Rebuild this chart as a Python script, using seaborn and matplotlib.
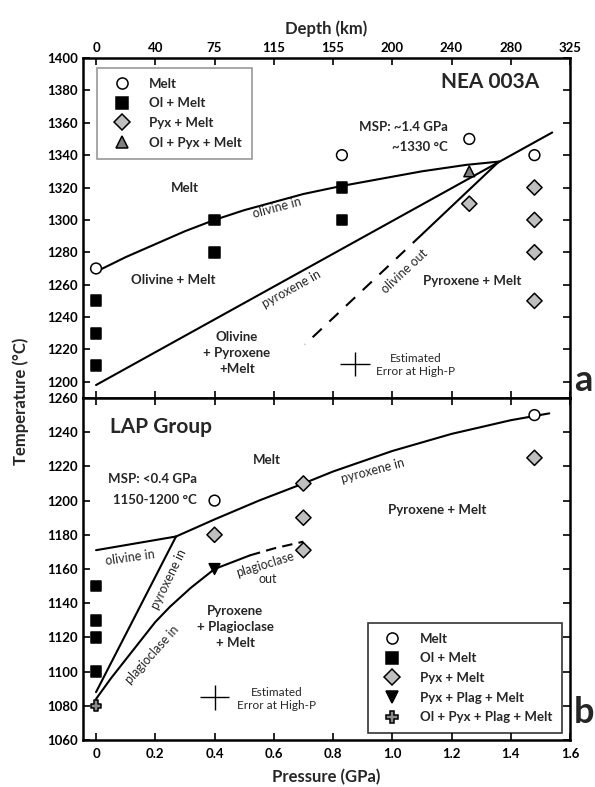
import matplotlib.pyplot as plt
import matplotlib.lines as mlines
import seaborn as sns
import pandas as pd

# ---- data: panel a (NEA 003A) ----
melt_a_P = [0, 0.83, 1.26, 1.48]
melt_a_T = [1270, 1340, 1350, 1340]
olm_a_P = [0, 0, 0, 0.4, 0.4, 0.83, 0.83]
olm_a_T = [1250, 1230, 1210, 1300, 1280, 1320, 1300]
pyx_a_P = [1.26, 1.48, 1.48, 1.48, 1.48]
pyx_a_T = [1310, 1320, 1300, 1280, 1250]
olpyx_a_P = [1.26]
olpyx_a_T = [1330]

oliv_in_a_P = [0, 0.1, 0.2, 0.3, 0.4, 0.5, 0.6, 0.7, 0.83, 0.95, 1.1, 1.25, 1.36]
oliv_in_a_T = [1268, 1277, 1285, 1293, 1300, 1306, 1311, 1316, 1321, 1325, 1330, 1334, 1336]
pyx_in_a_P = [0, 1.54]
pyx_in_a_T = [1198, 1354]
oliv_out_a_P = [1.36, 1.1]
oliv_out_a_T = [1336, 1291]
oliv_out_dash_a_P = [1.1, 0.705]
oliv_out_dash_a_T = [1291, 1223]

# ---- data: panel b (LAP Group) ----
melt_b_P = [0.4, 1.48]
melt_b_T = [1200, 1250]
olm_b_P = [0, 0, 0, 0]
olm_b_T = [1150, 1130, 1120, 1100]
pyx_b_P = [0.4, 0.7, 0.7, 0.7, 1.48]
pyx_b_T = [1180, 1210, 1190, 1171, 1225]
pyxplag_b_P = [0.4]
pyxplag_b_T = [1160]
all4_b_P = [0]
all4_b_T = [1080]

oliv_in_b_P = [0, 0.27]
oliv_in_b_T = [1171, 1179]
pyx_in_b_P = [0.27, 0.4, 0.55, 0.7, 0.8, 0.9, 1.0, 1.1, 1.2, 1.3, 1.4, 1.53]
pyx_in_b_T = [1179, 1189, 1200, 1210, 1217, 1223, 1229, 1234, 1239, 1243, 1247, 1251]
pyx_in2_b_P = [0, 0.27]
pyx_in2_b_T = [1088, 1179]
plag_in_b_P = [0, 0.05, 0.1, 0.15, 0.2, 0.25, 0.32, 0.4, 0.46, 0.52]
plag_in_b_T = [1084, 1096, 1107, 1118, 1129, 1138, 1149, 1160, 1164, 1168]
plag_out_b_P = [0.52, 0.6, 0.7]
plag_out_b_T = [1168, 1172, 1176]

# estimated error crosses: P, T, dP, dT
err_a = [0.874, 1211, 0.05, 7.7]
err_b = [0.40, 1085, 0.05, 7.3]

p_ticks = [0, 0.2, 0.4, 0.6, 0.8, 1.0, 1.2, 1.4, 1.6]
p_labels = ["0", "0.2", "0.4", "0.6", "0.8", "1.0", "1.2", "1.4", "1.6"]
depth_labels = ["0", "40", "75", "115", "155", "200", "240", "280", "325"]

MARKERS = {"Melt": "o", "Ol + Melt": "s", "Pyx + Melt": "D",
           "Ol + Pyx + Melt": "^", "Pyx + Plag + Melt": "v",
           "Ol + Pyx + Plag + Melt": "P"}
COLORS = {"Melt": "white", "Ol + Melt": "black", "Pyx + Melt": "#bfbfbf",
          "Ol + Pyx + Melt": "#7f7f7f", "Pyx + Plag + Melt": "black",
          "Ol + Pyx + Plag + Melt": "#8c8c8c"}

sns.set_theme(style="ticks")
plt.rcParams["font.family"] = ["Lato", "DejaVu Sans"]
plt.rcParams["font.weight"] = "bold"
plt.rcParams["axes.labelweight"] = "bold"


def frame(phases):
    rows = []
    for name, P, T in phases:
        rows += [{"P": p, "T": t, "phase": name} for p, t in zip(P, T)]
    return pd.DataFrame(rows)


df_a = frame([("Melt", melt_a_P, melt_a_T), ("Ol + Melt", olm_a_P, olm_a_T),
              ("Pyx + Melt", pyx_a_P, pyx_a_T),
              ("Ol + Pyx + Melt", olpyx_a_P, olpyx_a_T)])
df_b = frame([("Melt", melt_b_P, melt_b_T), ("Ol + Melt", olm_b_P, olm_b_T),
              ("Pyx + Melt", pyx_b_P, pyx_b_T),
              ("Pyx + Plag + Melt", pyxplag_b_P, pyxplag_b_T),
              ("Ol + Pyx + Plag + Melt", all4_b_P, all4_b_T)])

fig = plt.figure(figsize=(5.95, 7.87), dpi=100)
ax1 = fig.add_axes([0.1395, 0.4943, 0.8185, 0.4320])
ax2 = fig.add_axes([0.1395, 0.0597, 0.8185, 0.4346])

LW = 1.5
SMALL = 9
MID = 9.5


def style_axes(ax, ylim, yticks):
    ax.set_xlim(-0.044, 1.6)
    ax.set_ylim(*ylim)
    ax.set_xticks(p_ticks)
    ax.set_yticks(yticks)
    for s in ax.spines.values():
        s.set_visible(True)
        s.set_linewidth(1.8)
        s.set_color("black")
    ax.tick_params(direction="in", length=5, width=1.2, colors="black",
                   labelsize=MID, top=True, right=True, bottom=True, left=True)
    ax.set_xlabel("")
    ax.set_ylabel("")


def scatter(ax, df):
    phases = list(df["phase"].unique())
    sns.scatterplot(data=df, x="P", y="T", hue="phase", style="phase",
                    palette={k: COLORS[k] for k in phases},
                    markers={k: MARKERS[k] for k in phases},
                    s=60, edgecolor="black", linewidth=1.1, legend=False,
                    ax=ax, zorder=5, clip_on=False)


def legend(ax, names, **kw):
    handles = [mlines.Line2D([], [], linestyle="none", marker=MARKERS[n],
                             markerfacecolor=COLORS[n], markeredgecolor="black",
                             markeredgewidth=1.1, markersize=8, label=n)
               for n in names]
    leg = ax.legend(handles=handles, fancybox=False, fontsize=MID,
                    handlelength=2.2, handletextpad=1.0, labelspacing=0.58,
                    borderpad=0.75, borderaxespad=0, **kw)
    leg.get_frame().set_linewidth(1.2)
    return leg


def note(ax, x, y, s, rot=0, size=SMALL, **kw):
    ax.text(x, y, s, fontsize=size, fontweight="normal", rotation=rot,
            ha="center", va="center", rotation_mode="anchor", **kw)


# ---- panel a ----
ax1.plot(oliv_in_a_P, oliv_in_a_T, color="black", lw=LW)
ax1.plot(pyx_in_a_P, pyx_in_a_T, color="black", lw=LW)
ax1.plot(oliv_out_a_P, oliv_out_a_T, color="black", lw=LW)
ax1.plot(oliv_out_dash_a_P, oliv_out_dash_a_T, color="black", lw=LW,
         linestyle=(0, (6, 5)))
scatter(ax1, df_a)
ax1.errorbar(err_a[0], err_a[1], xerr=err_a[2], yerr=err_a[3], fmt="none",
             ecolor="black", elinewidth=1, capsize=0)
style_axes(ax1, (1190, 1400), range(1200, 1401, 20))
ax1.set_xticklabels(depth_labels)
ax1.tick_params(axis="x", labelbottom=False, labeltop=True, pad=3)
ax1.xaxis.set_label_position("top")
ax1.set_xlabel("Depth (km)", fontsize=12, labelpad=6)
leg = legend(ax1, ["Melt", "Ol + Melt", "Pyx + Melt", "Ol + Pyx + Melt"],
             loc="upper left", bbox_to_anchor=(0.029, 0.971))
leg.get_frame().set_edgecolor("#7f7f7f")

ax1.text(1.33, 1385, "NEA 003A", fontsize=15, ha="center", va="center")
ax1.text(1.188, 1357.5, "MSP: ~1.4 GPa", fontsize=MID, ha="right", va="center")
ax1.text(1.188, 1345, "~1330 °C", fontsize=MID, ha="right", va="center")
ax1.text(0.30, 1320, "Melt", fontsize=MID, ha="center", va="center")
ax1.text(0.26, 1263, "Olivine + Melt", fontsize=MID, ha="center", va="center")
ax1.text(0.476, 1218, "Olivine\n+ Pyroxene\n+Melt", fontsize=MID,
         ha="center", va="center", linespacing=1.4)
ax1.text(1.27, 1262, "Pyroxene + Melt", fontsize=MID, ha="center", va="center")
note(ax1, 0.61, 1307.5, "olivine in", rot=15)
note(ax1, 0.66, 1257.5, "pyroxene in", rot=29)
note(ax1, 1.04, 1268, "olivine out", rot=43,
     bbox=dict(facecolor="white", edgecolor="none", pad=0.3))
note(ax1, 1.08, 1210.5, "Estimated\nError at High-P", size=8.5)
ax1.text(1.008, 0.05, "a", fontsize=26, transform=ax1.transAxes,
         ha="left", va="center")

# ---- panel b ----
ax2.plot(oliv_in_b_P, oliv_in_b_T, color="black", lw=LW)
ax2.plot(pyx_in_b_P, pyx_in_b_T, color="black", lw=LW)
ax2.plot(pyx_in2_b_P, pyx_in2_b_T, color="black", lw=LW)
ax2.plot(plag_in_b_P, plag_in_b_T, color="black", lw=LW)
ax2.plot(plag_out_b_P, plag_out_b_T, color="black", lw=LW,
         linestyle=(0, (5, 3)))
scatter(ax2, df_b)
ax2.errorbar(err_b[0], err_b[1], xerr=err_b[2], yerr=err_b[3], fmt="none",
             ecolor="black", elinewidth=1, capsize=0)
style_axes(ax2, (1060, 1260), range(1060, 1261, 20))
ax2.set_xticklabels(p_labels)
ax2.tick_params(axis="x", pad=6)
ax2.set_xlabel("Pressure (GPa)", fontsize=12, labelpad=6)
legend(ax2, ["Melt", "Ol + Melt", "Pyx + Melt", "Pyx + Plag + Melt",
             "Ol + Pyx + Plag + Melt"],
       loc="lower right", bbox_to_anchor=(0.984, 0.02)).get_frame().set_edgecolor("black")

ax2.text(0.047, 1243, "LAP Group", fontsize=15, ha="left", va="center")
ax2.text(0.577, 1223.5, "Melt", fontsize=MID, ha="center", va="center")
ax2.text(0.34, 1212.5, "MSP: <0.4 GPa", fontsize=MID, ha="right", va="center")
ax2.text(0.34, 1200.5, "1150-1200 °C", fontsize=MID, ha="right", va="center")
ax2.text(1.15, 1194.5, "Pyroxene + Melt", fontsize=MID, ha="center", va="center")
ax2.text(0.47, 1126, "Pyroxene\n+ Plagioclase\n+ Melt", fontsize=MID,
         ha="center", va="center", linespacing=1.4)
note(ax2, 0.115, 1166.5, "olivine in", rot=8)
note(ax2, 0.245, 1154, "pyroxene in", rot=64)
note(ax2, 0.935, 1217.5, "pyroxene in", rot=15)
note(ax2, 0.57, 1162.5, "plagioclase", rot=17)
note(ax2, 0.58, 1154, "out")
note(ax2, 0.19, 1110, "plagioclase in", rot=48)
note(ax2, 0.61, 1084, "Estimated\nError at High-P", size=8.5)
ax2.text(1.008, 0.08, "b", fontsize=26, transform=ax2.transAxes,
         ha="left", va="center")

fig.text(0.035, 0.49, "Temperature (°C)", rotation=90, fontsize=12,
         ha="center", va="center")

fig.savefig("out.png", dpi=100)
